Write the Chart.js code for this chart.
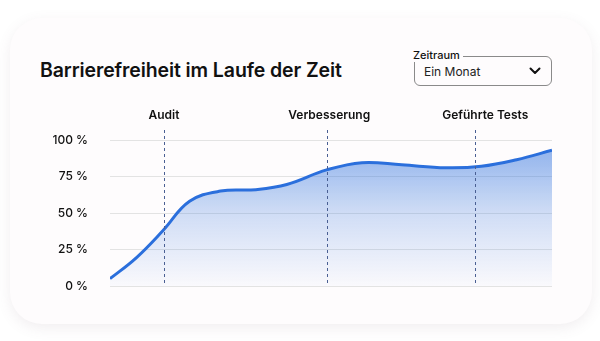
<!DOCTYPE html>
<html lang="de">
<head>
<meta charset="utf-8">
<title>Barrierefreiheit im Laufe der Zeit</title>
<script src="https://cdn.jsdelivr.net/npm/chart.js@4/dist/chart.umd.min.js"></script>
<style>
  html, body { margin: 0; padding: 0; background: #fff; }
  body { width: 600px; height: 341px; position: relative; overflow: hidden; font-family: Inter, "Noto Sans", sans-serif; }
  .card {
    position: absolute; left: 10px; top: 18px; width: 582px; height: 306px;
    background: #fefcfd; border-radius: 32px;
    box-shadow: 0 4px 14px rgba(120, 90, 110, 0.10);
  }
  h1 {
    position: absolute; left: 40px; top: 58px; margin: 0;
    font-size: 19.5px; font-weight: 600; color: #111; letter-spacing: -0.1px;
  }
  .select {
    position: absolute; left: 414px; top: 56px; width: 138px; height: 30px;
    border: 1px solid #8a8a8a; border-radius: 6px; box-sizing: border-box;
  }
  .select .legend {
    position: absolute; left: -2px; top: -9px; padding-right: 3px;
    background: #fefcfd; font-size: 11px; font-weight: 500; color: #111;
  }
  .select .value { position: absolute; left: 9px; top: 7px; font-size: 12px; color: #222; }
  .select svg { position: absolute; right: 10px; top: 10px; }
  canvas { position: absolute; left: 0; top: 0; }
</style>
</head>
<body>
<div class="card"></div>
<h1>Barrierefreiheit im Laufe der Zeit</h1>
<div class="select">
  <span class="legend">Zeitraum</span>
  <span class="value">Ein Monat</span>
  <svg width="12" height="8" viewBox="0 0 12 8"><path d="M1.5 1.5 L6 6 L10.5 1.5" fill="none" stroke="#111" stroke-width="2" stroke-linecap="round" stroke-linejoin="round"/></svg>
</div>
<canvas id="chart" width="600" height="341"></canvas>
<script>
// Zeitachse 0..100 (ein Monat), Werte in Prozent
const timePoints = [0, 6, 12, 18, 25, 33, 40, 49, 57, 66, 76, 84, 92, 100];
const scores     = [5, 19.5, 38, 58, 65, 66, 69.5, 79.5, 84.5, 83, 81, 82, 86.5, 93];
const yTicks     = [0, 25, 50, 75, 100];

// Ereignisse auf der Zeitachse
const eventLabels    = ['Audit', 'Verbesserung', 'Geführte Tests'];
const eventPositions = [12.2, 49.1, 82.6];
const eventLabelOffsets = [0, 0.5, 2.3];

const lineColor = '#2b6fdc';

// zeichnet gestrichelte Markierungen mit Beschriftung
const eventMarkers = {
  id: 'eventMarkers',
  afterDatasetsDraw(chart) {
    const { ctx, chartArea, scales } = chart;
    ctx.save();
    eventPositions.forEach((pos, i) => {
      const x = Math.round(scales.x.getPixelForValue(pos)) + 0.5;
      ctx.strokeStyle = '#4a5f93';
      ctx.lineWidth = 1;
      ctx.setLineDash([3, 3]);
      ctx.beginPath();
      ctx.moveTo(x, chartArea.top - 10);
      ctx.lineTo(x, chartArea.bottom);
      ctx.stroke();
      ctx.setLineDash([]);
      ctx.fillStyle = '#111';
      ctx.font = '600 12px Inter, "Noto Sans", sans-serif';
      ctx.textAlign = 'center';
      ctx.textBaseline = 'middle';
      const lx = scales.x.getPixelForValue(pos + eventLabelOffsets[i]);
      ctx.fillText(eventLabels[i], lx, chartArea.top - 25);
    });
    ctx.restore();
  }
};

const ctx = document.getElementById('chart').getContext('2d');

const chart = new Chart(ctx, {
  type: 'line',
  data: {
    datasets: [{
      label: 'Barrierefreiheit',
      data: timePoints.map((t, i) => ({ x: t, y: scores[i] })),
      borderColor: lineColor,
      borderWidth: 3,
      pointRadius: 0,
      tension: 0.4,
      fill: 'origin',
      backgroundColor: (context) => {
        const area = context.chart.chartArea;
        if (!area) return 'rgba(43,111,220,0.3)';
        const g = context.chart.ctx.createLinearGradient(0, area.top, 0, area.bottom);
        g.addColorStop(0, 'rgba(43,111,220,0.55)');
        g.addColorStop(0.5, 'rgba(43,111,220,0.22)');
        g.addColorStop(1, 'rgba(43,111,220,0.02)');
        return g;
      }
    }]
  },
  options: {
    responsive: false,
    animation: false,
    layout: { padding: { top: 140, bottom: 55, right: 48, left: 0 } },
    plugins: { legend: { display: false }, tooltip: { enabled: false } },
    scales: {
      x: { type: 'linear', min: 0, max: 100, display: false },
      y: {
        min: 0,
        max: 100,
        afterFit(scale) { scale.width = 110; },
        afterBuildTicks(scale) { scale.ticks = yTicks.map(v => ({ value: v })); },
        border: { display: false },
        grid: { color: '#e3e3e3', drawTicks: false, lineWidth: 1 },
        ticks: {
          padding: 22,
          color: '#111',
          font: { family: 'Inter, "Noto Sans", sans-serif', size: 12, weight: 500 },
          callback: (v) => v + ' %'
        }
      }
    }
  },
  plugins: [eventMarkers]
});
</script>
</body>
</html>
